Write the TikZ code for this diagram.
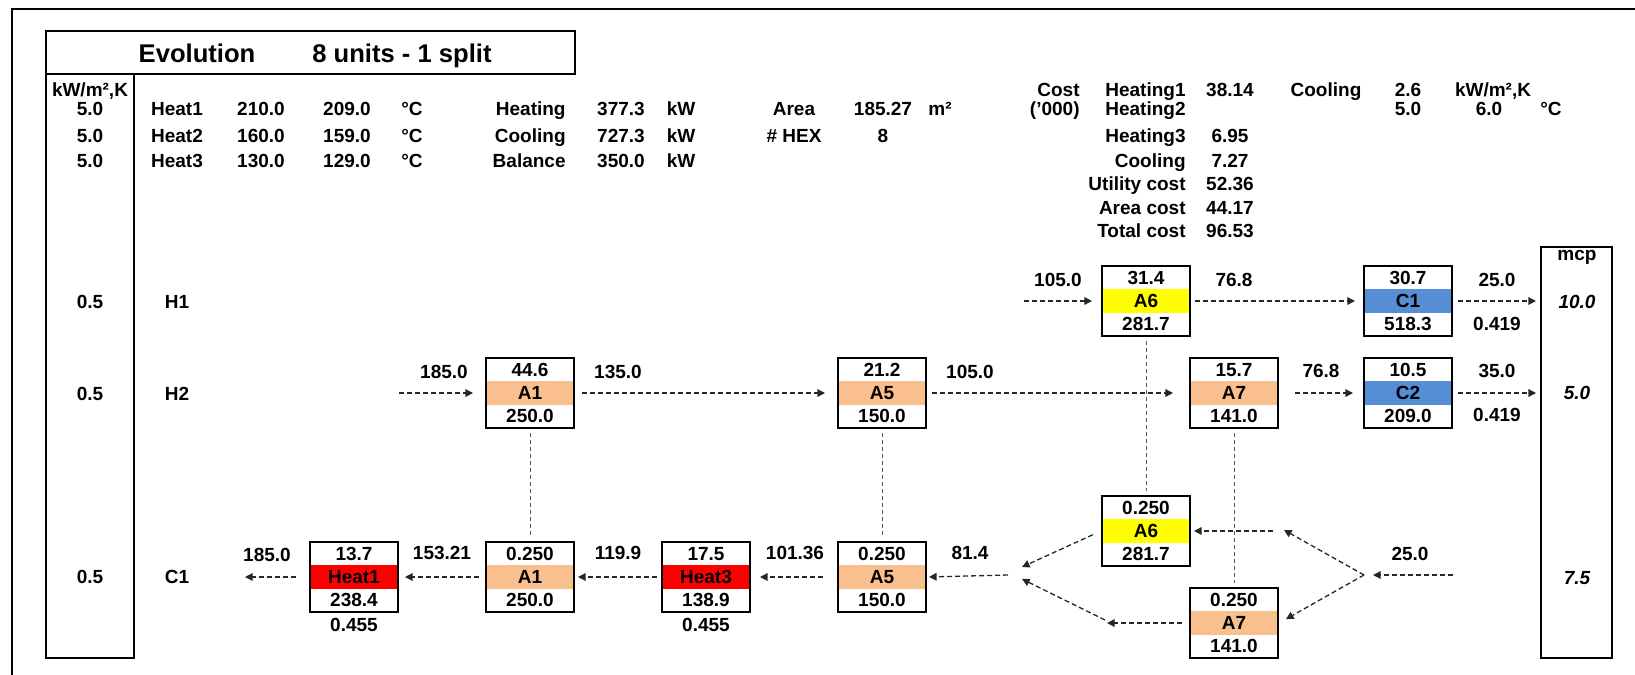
\documentclass[tikz,border=0pt]{standalone}
\usepackage{fontspec}
\setmainfont{Liberation Sans}
\usetikzlibrary{arrows.meta}

\definecolor{hexpeach}{RGB}{250,191,143}
\definecolor{hexyellow}{RGB}{255,255,0}
\definecolor{hexred}{RGB}{255,0,0}
\definecolor{hexblue}{RGB}{85,142,213}

\tikzset{
  txt/.style={font=\fontsize{9.5}{11}\selectfont\bfseries, inner sep=0pt,
    text height=6.8pt, text depth=0pt},
  ttltxt/.style={txt, font=\fontsize{12.8}{15}\selectfont\bfseries, text height=9.2pt},
  hexbox/.style={draw, line width=1pt, minimum width=44pt, minimum height=35pt, inner sep=0pt},
  flow/.style={draw=black!85, line width=0.65pt, dash pattern=on 2.5pt off 1.5pt,
    -{Triangle[length=3.8pt,width=3.8pt]}},
  match/.style={draw=black!65, line width=0.5pt, dash pattern=on 2pt off 1.5pt,
    shorten <=2pt, shorten >=2pt},
}

% one exchanger: name, x, y, colour, upper value, label, lower value
\newcommand{\hexunit}[7]{%
  \fill[#4] (#2-44,#3-12) rectangle (#2+44,#3+12);
  \node[hexbox] (#1) at (#2,#3) {};
  \node[txt] (#1-t) at (#2,#3-23) {#5};
  \node[txt] (#1-m) at (#2,#3) {#6};
  \node[txt] (#1-b) at (#2,#3+23) {#7};
}

\begin{document}
\begin{tikzpicture}[x=0.5pt, y=-0.5pt]
  \useasboundingbox (0,0) rectangle (1635,675);

  % frame, title and the two side columns
  \draw[line width=1pt] (12,675) -- (12,9) -- (1635,9);
  \draw[line width=1pt] (46,31) rectangle (575,74);
  \draw[line width=0.8pt] (46,74) rectangle (134,658);
  \draw[line width=0.8pt] (1541,247) rectangle (1612,658);
  \node[ttltxt] (ttla) at (197,53) {Evolution};
  \node[ttltxt] (ttlb) at (402,53) {8 units - 1 split};

  % utility data
  \node[txt] (ucoef) at (90,90) {kW/m²,K};
  \foreach \nm/\ta/\tb/\yy in {Heat1/210.0/209.0/109, Heat2/160.0/159.0/136, Heat3/130.0/129.0/161} {
    \node[txt] (uh-\nm) at (90,\yy) {5.0};
    \node[txt] (un-\nm) at (177,\yy) {\nm};
    \node[txt] (ua-\nm) at (261,\yy) {\ta};
    \node[txt] (ub-\nm) at (347,\yy) {\tb};
    \node[txt] (uc-\nm) at (412,\yy) {°C};
  }
  \foreach \nm/\val/\yy in {Heating/377.3/109, Cooling/727.3/136, Balance/350.0/161} {
    \node[txt, anchor=east] (sl-\nm) at (566,\yy) {\nm};
    \node[txt] (sv-\nm) at (621,\yy) {\val};
    \node[txt] (su-\nm) at (681,\yy) {kW};
  }
  \node[txt] (area) at (794,109) {Area};
  \node[txt] (areav) at (883,109) {185.27};
  \node[txt] (areau) at (940,109) {m²};
  \node[txt] (nhex) at (794,136) {\# HEX};
  \node[txt] (nhexv) at (883,136) {8};

  % cost table
  \node[txt, anchor=east] (cost) at (1080,90) {Cost};
  \node[txt, anchor=east] (costu) at (1080,109) {('000)};
  \foreach \nm/\val/\yy in {Heating1/38.14/90, Heating2//109, Heating3/6.95/136, Cooling/7.27/161,
      Utility cost/52.36/184, Area cost/44.17/208, Total cost/96.53/231} {
    \node[txt, anchor=east] (cl-\yy) at (1186,\yy) {\nm};
    \node[txt] (cv-\yy) at (1230,\yy) {\val};
  }
  \node[txt] (cool) at (1326,90) {Cooling};
  \node[txt] (coolh) at (1408,90) {2.6};
  \node[txt] (coolu) at (1493,90) {kW/m²,K};
  \node[txt] (coola) at (1408,109) {5.0};
  \node[txt] (coolb) at (1489,109) {6.0};
  \node[txt] (coolc) at (1551,109) {°C};

  % streams
  \node[txt] (sh1) at (90,302) {0.5};
  \node[txt] (nh1) at (177,302) {H1};
  \node[txt] (sh2) at (90,394) {0.5};
  \node[txt] (nh2) at (177,394) {H2};
  \node[txt] (sc1) at (90,577) {0.5};
  \node[txt] (nc1) at (177,577) {C1};
  \node[txt] (mcp) at (1577,254) {mcp};
  \node[txt, font=\fontsize{9.5}{11}\selectfont\bfseries\itshape] (mh1) at (1577,302) {10.0};
  \node[txt, font=\fontsize{9.5}{11}\selectfont\bfseries\itshape] (mh2) at (1577,393) {5.0};
  \node[txt, font=\fontsize{9.5}{11}\selectfont\bfseries\itshape] (mc1) at (1577,578) {7.5};

  % exchangers
  \hexunit{a6up}{1146}{301}{hexyellow}{31.4}{A6}{281.7}
  \hexunit{cu1}{1408}{301}{hexblue}{30.7}{C1}{518.3}
  \hexunit{a1up}{530}{393}{hexpeach}{44.6}{A1}{250.0}
  \hexunit{a5up}{882}{393}{hexpeach}{21.2}{A5}{150.0}
  \hexunit{a7up}{1234}{393}{hexpeach}{15.7}{A7}{141.0}
  \hexunit{cu2}{1408}{393}{hexblue}{10.5}{C2}{209.0}
  \hexunit{ht1}{354}{577}{hexred}{13.7}{Heat1}{238.4}
  \hexunit{a1lo}{530}{577}{hexpeach}{0.250}{A1}{250.0}
  \hexunit{ht3}{706}{577}{hexred}{17.5}{Heat3}{138.9}
  \hexunit{a5lo}{882}{577}{hexpeach}{0.250}{A5}{150.0}
  \hexunit{a6lo}{1146}{531}{hexyellow}{0.250}{A6}{281.7}
  \hexunit{a7lo}{1234}{623}{hexpeach}{0.250}{A7}{141.0}
  \node[txt] (ht1-f) at (354,625) {0.455};
  \node[txt] (ht3-f) at (706,625) {0.455};

  % temperatures
  \node[txt] (th1a) at (1058,280) {105.0};
  \node[txt] (th1b) at (1234,280) {76.8};
  \node[txt] (th1c) at (1497,280) {25.0};
  \node[txt] (fh1) at (1497,324) {0.419};
  \node[txt] (th2a) at (444,372) {185.0};
  \node[txt] (th2b) at (618,372) {135.0};
  \node[txt] (th2c) at (970,372) {105.0};
  \node[txt] (th2d) at (1321,371) {76.8};
  \node[txt] (th2e) at (1497,371) {35.0};
  \node[txt] (fh2) at (1497,415) {0.419};
  \node[txt] (tc1a) at (1410,554) {25.0};
  \node[txt] (tc1b) at (970,553) {81.4};
  \node[txt] (tc1c) at (795,553) {101.36};
  \node[txt] (tc1d) at (618,553) {119.9};
  \node[txt] (tc1e) at (442,553) {153.21};
  \node[txt] (tc1f) at (267,555) {185.0};

  % H1
  \coordinate (h1in) at (1024,301);
  \coordinate (h1out) at (1536,301);
  \draw[flow, shorten >=4.5pt] (h1in) -- (a6up.west);
  \draw[flow, shorten <=2pt, shorten >=4pt] (a6up.east) -- (cu1.west);
  \draw[flow, shorten <=2.5pt] (cu1.east) -- (h1out);

  % H2
  \coordinate (h2in) at (399,393);
  \coordinate (h2out) at (1536,393);
  \draw[flow, shorten >=6pt] (h2in) -- (a1up.west);
  \draw[flow, shorten <=3.5pt, shorten >=6pt] (a1up.east) -- (a5up.west);
  \draw[flow, shorten <=2.5pt, shorten >=8pt] (a5up.east) -- (a7up.west);
  \draw[flow, shorten <=8pt, shorten >=5pt] (a7up.east) -- (cu2.west);
  \draw[flow, shorten <=2.5pt] (cu2.east) -- (h2out);

  % C1, split over A6 and A7
  \coordinate (c1in) at (1453,575);
  \coordinate (spl) at (1364,575);
  \coordinate (spla) at (1284,530);
  \coordinate (splb) at (1273,531);
  \coordinate (mixu) at (1022,567);
  \coordinate (mida) at (1107,623);
  \coordinate (midb) at (1105,620);
  \coordinate (mixl) at (1022,579);
  \coordinate (mixo) at (1008,575);
  \coordinate (c1out) at (245,577);
  \draw[flow, shorten >=4.5pt] (c1in) -- (spl);
  \draw[flow] (spl) -- (spla);
  \draw[flow, shorten >=1.5pt] (splb) -- (a6lo.east);
  \draw[flow, shorten >=4pt] (spl) -- (a7lo.east);
  \draw[flow, shorten <=4.5pt] (a6lo.west) -- (mixu);
  \draw[flow, shorten <=3.5pt] (a7lo.west) -- (mida);
  \draw[flow] (midb) -- (mixl);
  \draw[flow, shorten >=1pt] (mixo) -- (a5lo.east);
  \draw[flow, shorten <=7pt, shorten >=4.5pt] (a5lo.west) -- (ht3.east);
  \draw[flow, shorten <=2pt, shorten >=1.5pt] (ht3.west) -- (a1lo.east);
  \draw[flow, shorten <=3pt, shorten >=3pt] (a1lo.west) -- (ht1.east);
  \draw[flow, shorten <=6.5pt] (ht1.west) -- (c1out);

  % matches
  \draw[match] (a1up.south) -- (a1lo.north);
  \draw[match] (a5up.south) -- (a5lo.north);
  \draw[match] (a6up.south) -- (a6lo.north);
  \draw[match] (a7up.south) -- (a7lo.north);

\end{tikzpicture}
\end{document}
